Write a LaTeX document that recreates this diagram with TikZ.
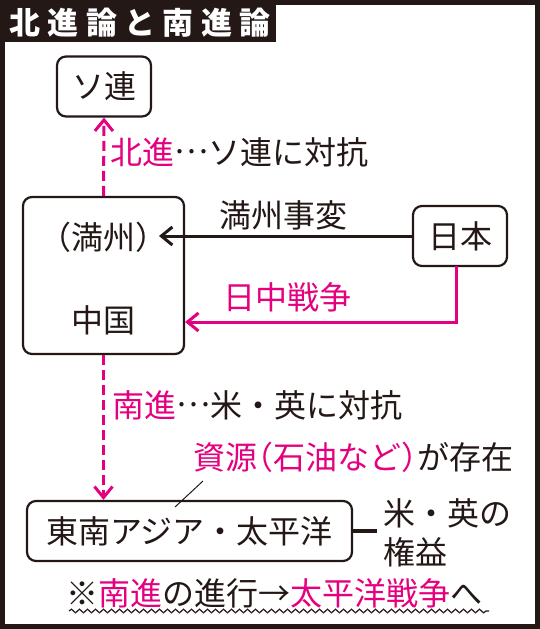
\documentclass[tikz,border=0pt]{standalone}
\usepackage{fontspec}
\setmainfont{Noto Sans CJK JP}
\newfontfamily\haltfont[RawFeature=+halt]{Noto Sans CJK JP}
\newfontfamily\titlefont[LetterSpace=24]{Noto Sans CJK JP}
\usetikzlibrary{arrows.meta,decorations.pathmorphing}
\definecolor{inkc}{RGB}{35,24,21}
\definecolor{pinkc}{RGB}{228,0,127}
\newcommand{\midell}{\raisebox{0.32em}{…}}
\begin{document}
\begin{tikzpicture}[x=1pt,y=-1pt,
  box/.style={draw=inkc, line width=2.2pt, rounded corners=9pt, inner sep=0pt, text=inkc},
  lbl/.style={inner sep=0pt, anchor=west, text=inkc},
  tip/.style={-{Straight Barb[length=11pt,width=18pt]}},
  every node/.append style={font=\fontsize{32pt}{37pt}\selectfont}
]
\useasboundingbox (0,0) rectangle (540,629);
\fill[white] (0,0) rectangle (540,629);
\draw[line width=5pt, draw=inkc] (2.5,2.5) rectangle (537.5,626.5);
\fill[inkc] (0,0) rectangle (276,42);
\node[text=white, inner sep=0pt, font=\titlefont\bfseries\fontsize{31pt}{34pt}\selectfont] (title) at (140,23) {北進論と南進論};

\node[box, minimum width=94pt, minimum height=60pt] (soren) at (104,86.5) {ソ連};
\node[box, minimum width=161pt, minimum height=157pt] (china) at (103.5,275.5) {};
\node[lbl, anchor=center] (manshu) at (103,237) {\haltfont （満州）};
\node[lbl, anchor=center] (chugoku) at (103,320) {中国};
\node[box, minimum width=94pt, minimum height=60pt] (nihon) at (460,236) {日本};
\node[box, minimum width=325pt, minimum height=60pt] (sea) at (189.5,531) {東南アジア・太平洋};

\node[lbl] (jihen) at (219,215) {満州事変};
\node[lbl, text=pinkc] (nicchu) at (223,297) {日中戦争};
\node[lbl] (hokushin) at (110,152) {\textcolor{pinkc}{北進}\midell ソ連に対抗};
\node[lbl] (nanshin) at (112,405) {\textcolor{pinkc}{南進}\midell 米・英に対抗};
\node[lbl] (shigen) at (193,457) {\textcolor{pinkc}{資源{\haltfont （}石油など{\haltfont ）}}が存在};
\node[lbl] (kenA) at (383,513) {米・英の};
\node[lbl] (kenB) at (383,552) {権益};
\node[lbl] (note) at (66,593) {※\textcolor{pinkc}{南進}の進行→\textcolor{pinkc}{太平洋戦争}へ};

\coordinate (mtip) at (159,236);
\draw[tip, line width=3pt, draw=inkc] (nihon.west) -- (mtip);
\coordinate (nb) at (456,266);
\coordinate (nc) at (456,322);
\draw[tip, line width=3pt, draw=pinkc] (nb) -- (nc) -- (china.east |- nc);
\draw[tip, line width=3pt, draw=pinkc, dash pattern=on 10pt off 5pt] (china.north) -- (soren.south);
\draw[tip, line width=3pt, draw=pinkc, dash pattern=on 10pt off 5pt] (china.south) -- (china.south |- sea.north);
\coordinate (s1) at (203,481);
\coordinate (s2) at (175,507);
\draw[draw=inkc, line width=1pt] (s1) -- (s2);
\coordinate (ke) at (377,531);
\draw[draw=inkc, line width=3.5pt] (sea.east) -- (ke);
\coordinate (w1) at (69,611);
\coordinate (w2) at (489,611);
\draw[draw=inkc, line width=1.2pt, decorate, decoration={snake, amplitude=1.8pt, segment length=8pt}] (w1) -- (w2);
\end{tikzpicture}
\end{document}
